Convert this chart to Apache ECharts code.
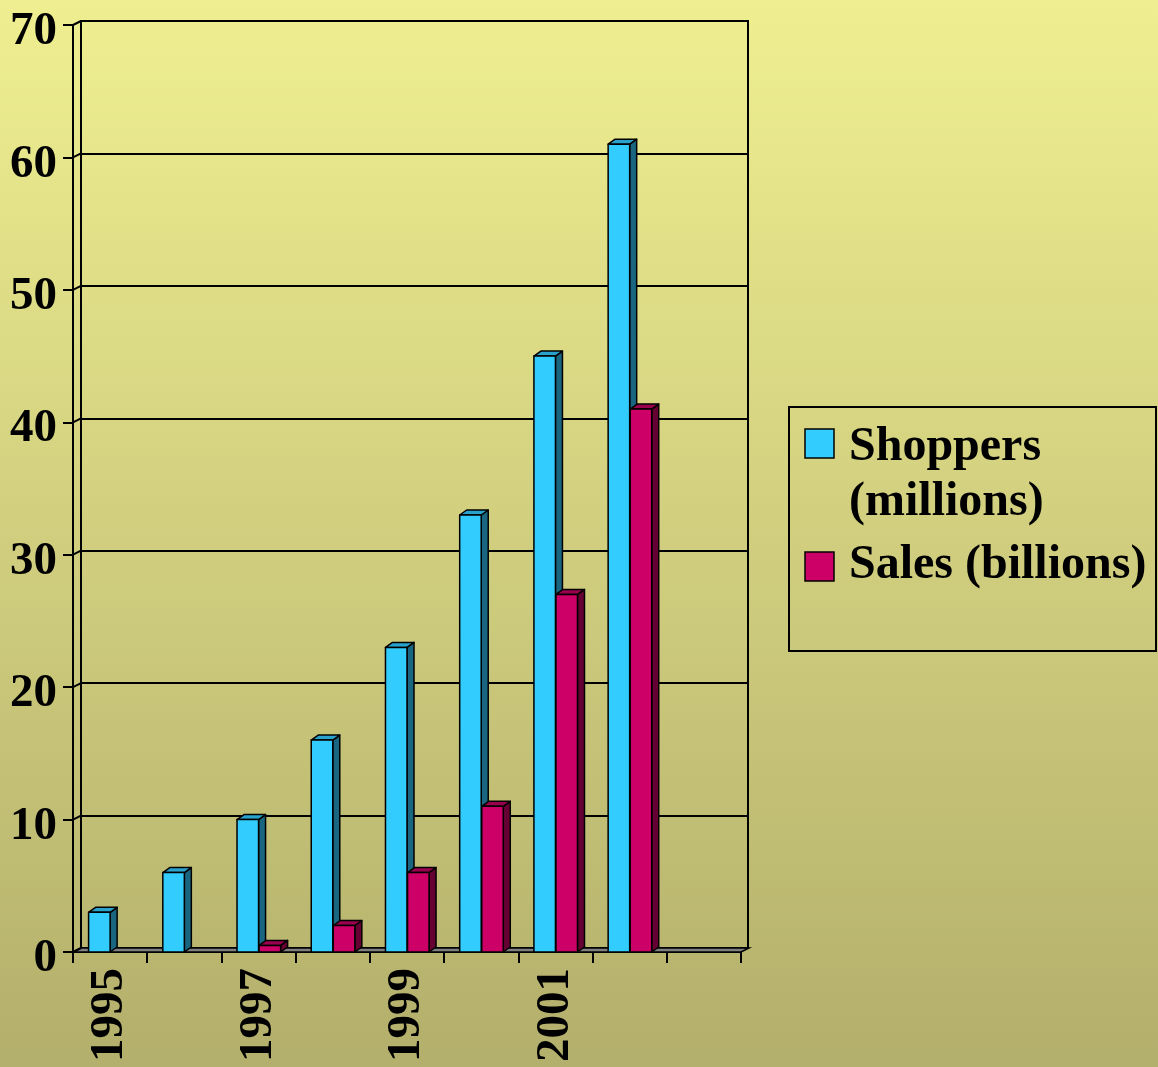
<!DOCTYPE html>
<html>
<head>
<meta charset="utf-8">
<script src="https://cdn.jsdelivr.net/npm/echarts@6/dist/echarts.min.js"></script>
<style>
html,body{margin:0;padding:0;}
#chart{width:1158px;height:1067px;}
</style>
</head>
<body>
<div id="chart"></div>
<script>
const categories = ['1995','1996','1997','1998','1999','2000','2001','2002',''];
const shoppers = [3, 6, 10, 16, 23, 33, 45, 61, 0];
const sales = [0, 0, 0.5, 2, 6, 11, 27, 41, 0];
const yTicks = [0, 10, 20, 30, 40, 50, 60, 70];
const seriesNames = ['Shoppers (millions)', 'Sales (billions)'];
const legendLines = [['Shoppers', '(millions)'], ['Sales (billions)']];

const FONT = '"Liberation Serif", "Times New Roman", serif';
const WALL_DX = 8, WALL_DY = -4;
const BAR_DX = 7, BAR_DY = -5;

function barRenderer(offsetFrac, face, side, top) {
  return function (params, api) {
    const idx = api.value(0), v = api.value(1);
    if (!v) return;
    const band = api.size([1, 0])[0];
    const c = api.coord([idx, 0]);
    const t = api.coord([idx, v]);
    const w = band * 0.29;
    const x0 = c[0] + offsetFrac * band, x1 = x0 + w;
    const yb = c[1], yt = t[1];
    const st = { stroke: '#000', lineWidth: 1.5, lineJoin: 'round' };
    return {
      type: 'group',
      children: [
        { type: 'polygon', shape: { points: [[x1, yt], [x1 + BAR_DX, yt + BAR_DY], [x1 + BAR_DX, yb + BAR_DY], [x1, yb]] }, style: Object.assign({ fill: side }, st) },
        { type: 'polygon', shape: { points: [[x0, yt], [x0 + BAR_DX, yt + BAR_DY], [x1 + BAR_DX, yt + BAR_DY], [x1, yt]] }, style: Object.assign({ fill: top }, st) },
        { type: 'rect', shape: { x: x0, y: yt, width: w, height: yb - yt }, style: Object.assign({ fill: face }, st) }
      ]
    };
  };
}

function wallRenderer(params, api) {
  const cs = params.coordSys;
  const v = api.value(1);
  const y = api.coord([0, v])[1];
  const x = cs.x;
  const line = { type: 'line', shape: { x1: x, y1: y, x2: x + WALL_DX, y2: y + WALL_DY }, style: { stroke: '#000', lineWidth: 2 } };
  if (v === 0) {
    return {
      type: 'group',
      children: [
        { type: 'polygon', shape: { points: [[x, y], [x + cs.width, y], [x + cs.width + WALL_DX, y + WALL_DY], [x + WALL_DX, y + WALL_DY]] }, style: { fill: '#808080', stroke: '#000', lineWidth: 1.5 } },
        line
      ]
    };
  }
  return line;
}

const chart = echarts.init(document.getElementById('chart'));
const legendGraphics = [
  { type: 'rect', shape: { x: 789, y: 407, width: 367, height: 244 }, style: { fill: 'transparent', stroke: '#000', lineWidth: 2 } },
  { type: 'rect', shape: { x: 805, y: 429, width: 29, height: 29 }, style: { fill: '#33CCFF', stroke: '#000', lineWidth: 1.5 } },
  { type: 'rect', shape: { x: 805, y: 552, width: 29, height: 29 }, style: { fill: '#CC0066', stroke: '#000', lineWidth: 1.5 } },
  { type: 'text', x: 849, y: 448, style: { text: legendLines[0][0], font: 'bold 48px ' + FONT, fill: '#000', verticalAlign: 'middle' } },
  { type: 'text', x: 849, y: 503, style: { text: legendLines[0][1], font: 'bold 48px ' + FONT, fill: '#000', verticalAlign: 'middle' } },
  { type: 'text', x: 849, y: 566, style: { text: legendLines[1][0], font: 'bold 48px ' + FONT, fill: '#000', verticalAlign: 'middle' } }
];

chart.setOption({
  animation: false,
  backgroundColor: { type: 'linear', x: 0, y: 0, x2: 0, y2: 1, colorStops: [{ offset: 0, color: '#EFEF91' }, { offset: 1, color: '#B3AF6C' }] },
  grid: [
    { left: 73, top: 25, width: 668, height: 927 },
    { left: 81, top: 21, width: 667, height: 927, show: true, borderColor: '#000', borderWidth: 2, backgroundColor: 'transparent' }
  ],
  xAxis: [
    {
      type: 'category', gridIndex: 0, data: categories, boundaryGap: true,
      axisLine: { show: true, lineStyle: { color: '#000', width: 2 } },
      axisTick: { show: true, interval: 0, length: 11, lineStyle: { color: '#000', width: 2 } },
      axisLabel: { interval: 1, rotate: 90, margin: 16, color: '#000', fontSize: 47, fontWeight: 'bold', fontFamily: FONT },
      splitLine: { show: false }
    },
    { type: 'category', gridIndex: 1, data: categories, show: false }
  ],
  yAxis: [
    {
      type: 'value', gridIndex: 0, min: 0, max: 70, interval: 10,
      axisLine: { show: true, lineStyle: { color: '#000', width: 2 } },
      axisTick: { show: true, length: 10, lineStyle: { color: '#000', width: 2 } },
      axisLabel: {
        margin: 16, color: '#000',
        formatter: v => '{a|' + v + '}',
        rich: { a: { fontSize: 47, fontWeight: 'bold', fontFamily: FONT, color: '#000', padding: [14, 0, 0, 0] } }
      },
      splitLine: { show: false }
    },
    {
      type: 'value', gridIndex: 1, min: 0, max: 70, interval: 10,
      axisLine: { show: false }, axisTick: { show: false }, axisLabel: { show: false },
      splitLine: { show: true, lineStyle: { color: '#000', width: 2 } }
    }
  ],
  series: [
    {
      type: 'custom', name: 'walls', xAxisIndex: 0, yAxisIndex: 0, z: 1, silent: true,
      data: yTicks.map(v => [0, v]), encode: { x: 0, y: 1 }, renderItem: wallRenderer
    },
    {
      type: 'custom', name: seriesNames[0], xAxisIndex: 0, yAxisIndex: 0, z: 3,
      data: shoppers.map((v, i) => [i, v]), encode: { x: 0, y: 1 },
      renderItem: barRenderer(-0.29, '#33CCFF', '#1A6680', '#2AA3CC')
    },
    {
      type: 'custom', name: seriesNames[1], xAxisIndex: 0, yAxisIndex: 0, z: 4,
      data: sales.map((v, i) => [i, v]), encode: { x: 0, y: 1 },
      renderItem: barRenderer(0.007, '#CC0066', '#660033', '#99004D')
    }
  ],
  graphic: legendGraphics
});
</script>
</body>
</html>
